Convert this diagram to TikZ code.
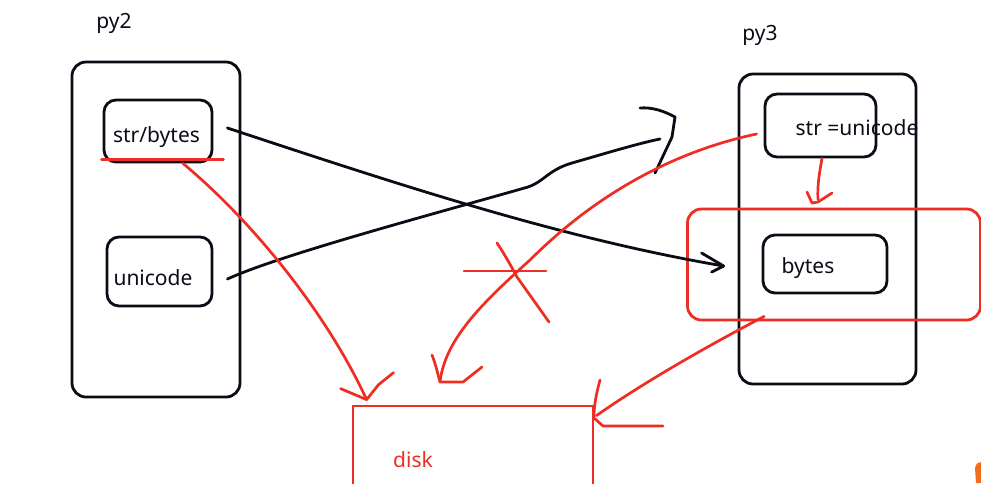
\documentclass[tikz,border=0pt]{standalone}
\usepackage{fontspec}
\setmainfont{Noto Sans}
\usetikzlibrary{calc}
\definecolor{pen}{RGB}{238,45,36}
\definecolor{ink}{RGB}{12,12,22}
\definecolor{orangemark}{RGB}{240,110,30}
\begin{document}
\begin{tikzpicture}[x=1pt,y=-1pt,
  blk/.style={draw=ink,line width=2.8pt,rounded corners=14pt,inner sep=0pt},
  inbox/.style={blk,rounded corners=12pt},
  redframe/.style={draw=pen,line width=2.8pt,inner sep=0pt},
  lbl/.style={font=\fontsize{21}{25}\selectfont,text=ink,inner sep=0pt,anchor=base},
  bconn/.style={draw=ink,line width=2.8pt,line cap=round,line join=round},
  rconn/.style={draw=pen,line width=2.7pt,line cap=round,line join=round}]
\useasboundingbox (0,0) rectangle (981,483);
\clip (0,0) rectangle (981,483);
\fill[white] (0,0) rectangle (981,483);

% py2 side
\node[lbl] (py2t) at (114,28) {py2};
\node[blk,minimum width=168,minimum height=335] (py2box) at (156,229.5) {};
\node[inbox,minimum width=108,minimum height=62] (sb) at (158,131) {};
\node[lbl] (sbt) at (156.5,142) {str/bytes};
\node[inbox,minimum width=105,minimum height=69] (uc) at (159.5,271.5) {};
\node[lbl] (uct) at (153,285) {unicode};

% py3 side
\node[lbl] (py3t) at (760,40) {py3};
\node[blk,minimum width=177,minimum height=310] (py3box) at (827.5,229) {};
\node[inbox,minimum width=111,minimum height=63] (su) at (820.5,125.5) {};
\node[lbl] (sut) at (857,135) {str =unicode};
\node[redframe,rounded corners=14pt,minimum width=293,minimum height=111] (rb) at (834,264.5) {};
\node[inbox,minimum width=124,minimum height=58] (by) at (825,264) {};
\node[lbl] (byt) at (808,273) {bytes};

% disk
\node[redframe,minimum width=240,minimum height=114] (disk) at (473,463) {};
\node[lbl,text=pen] (diskt) at (413,467) {disk};

% connector end points
\coordinate (k1s) at ($(sb.east)+(14,-3)$);
\coordinate (k1e) at ($(by.west)+(-38,2)$);
\coordinate (k2s) at ($(uc.east)+(14,7.5)$);
\coordinate (k2e) at (660,139);
\coordinate (r1s) at ($(sb.south)+(25,0)$);
\coordinate (r1e) at ($(disk.north west)+(15,-5)$);
\coordinate (r2s) at ($(su.west)+(-7,8.5)$);
\coordinate (r2e) at (440,382);
\coordinate (r3s) at ($(rb.south west)+(78,-5)$);
\coordinate (r3e) at ($(disk.north east)+(2,11)$);
\coordinate (r4s) at ($(su.south)+(1.5,0)$);
\coordinate (r4e) at ($(rb.north)+(-16,-8)$);
\coordinate (xc) at (517,271);

% red underline under str/bytes
\draw[rconn] ($(sb.south west)+(-1,-4)$) -- ($(sb.south east)+(10,-4)$);

% black: str/bytes -> bytes
\draw[bconn] (k1s) .. controls (400,185) and (560,238) .. (k1e);
\draw[bconn] ($(k1e)+(-22,-13)$) -- (k1e) -- ++(-12,6);

% black: unicode -> py3 str
\draw[bconn] (k2s) .. controls (280,255) and (430,215) .. (528,187)
  .. controls (545,181) and (548,170) .. (572,163)
  .. controls (610,152) and (640,143) .. (k2e);
\draw[bconn] ($(k2e)+(-20,-31)$) .. controls (652,107) and (664,111) .. (675,117) -- (672,137) -- (655,173);

% red: str/bytes -> disk
\draw[rconn] (r1s) .. controls (260,228) and (330,320) .. (r1e);
\draw[rconn] ($(r1e)+(-26,-11)$) -- (r1e) -- ++(12,-15) -- ++(15,-12);

% red: str=unicode -> disk (crossed out)
\draw[rconn] (r2s) .. controls (680,150) and (600,190) .. (530,260)
  .. controls (480,305) and (445,340) .. (r2e);
\draw[rconn] (432,355) .. controls (436,365) and (438,375) .. (r2e) -- ++(23,0) -- ++(19,-15);
\draw[rconn] ($(xc)+(-53,0)$) -- ($(xc)+(29,0)$);
\draw[rconn] ($(xc)+(-20,-28)$) .. controls (507,258) and (512,268) .. ($(xc)+(0,6)$) -- ($(xc)+(32,51)$);

% red: bytes box -> disk
\draw[rconn] (r3s) .. controls (700,350) and (640,385) .. (r3e);
\draw[rconn] (600,380) .. controls (596,395) and (594,405) .. (594,418) -- (603,426) -- (663,426);

% red: str=unicode -> bytes
\draw[rconn] (r4s) .. controls (820,170) and (817,185) .. (r4e);
\draw[rconn] (807,192) -- (812,203) -- (818,202) -- (832,193);

% orange fragment at corner
\fill[orangemark] (975,468) .. controls (976,463) and (979,462) .. (981,462) -- (981,483) -- (976,483) -- cycle;
\end{tikzpicture}
\end{document}
